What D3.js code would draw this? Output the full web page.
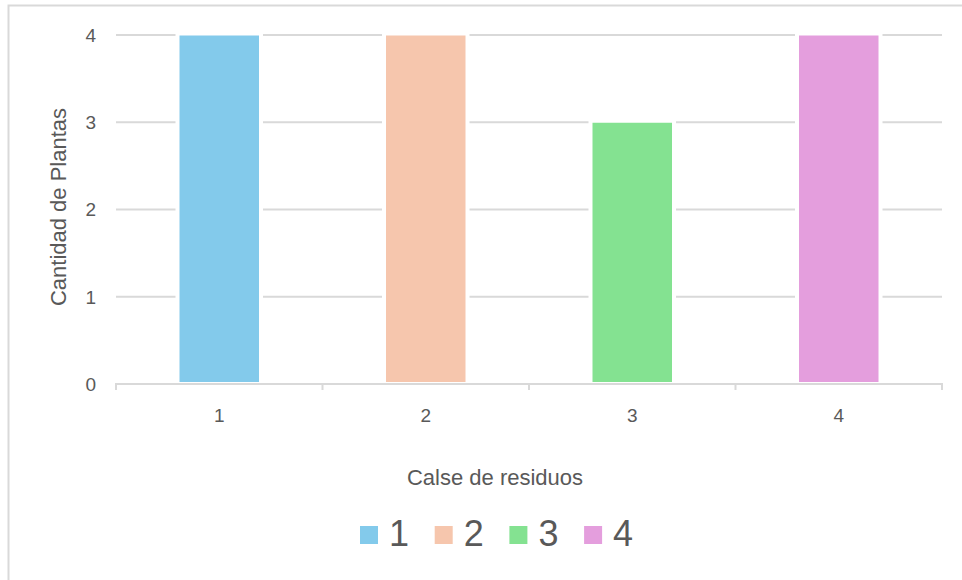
<!DOCTYPE html>
<html>
<head>
<meta charset="utf-8">
<script src="https://cdn.jsdelivr.net/npm/d3@7"></script>
<style>
  body { margin: 0; background: #fff; }
  text { font-family: "Liberation Sans", Arial, sans-serif; fill: #595959; }
</style>
</head>
<body>
<div id="chart"></div>
<script>
const categories = ["1", "2", "3", "4"];
const plantCounts = [4, 4, 3, 4];
const yTicks = [0, 1, 2, 3, 4];
const barColors = ["#83CAEB", "#F6C6AD", "#84E291", "#E49EDD"];
const xTitle = "Calse de residuos";
const yTitle = "Cantidad de Plantas";

const width = 962, height = 580;
const plotLeft = 116, plotRight = 942, plotTop = 35, plotBottom = 384;

const svg = d3.select("#chart").append("svg")
    .attr("width", width)
    .attr("height", height);

// outer frame of the chart area
svg.append("path")
    .attr("d", `M8.5,${height} V5.5 H${width}`)
    .attr("fill", "none")
    .attr("stroke", "#d9d9d9")
    .attr("stroke-width", 2);

const x = d3.scaleBand().domain(categories).range([plotLeft, plotRight]).padding(0);
const y = d3.scaleLinear().domain([0, 4]).range([plotBottom, plotTop]);

// horizontal gridlines
svg.append("g")
    .selectAll("line")
    .data(yTicks.filter(t => t > 0))
    .enter()
    .append("line")
    .attr("x1", plotLeft)
    .attr("x2", plotRight)
    .attr("y1", d => y(d))
    .attr("y2", d => y(d))
    .attr("stroke", "#d9d9d9")
    .attr("stroke-width", 2);

// y tick labels
svg.append("g")
    .selectAll("text")
    .data(yTicks)
    .enter()
    .append("text")
    .attr("x", 96)
    .attr("y", d => y(d))
    .attr("dy", "0.36em")
    .attr("text-anchor", "end")
    .style("font-size", "19px")
    .text(d => d);

const barW = x.bandwidth() * 0.385;
const data = categories.map((c, i) => ({ cat: c, value: plantCounts[i], color: barColors[i] }));

// white halo behind bars (breaks the gridlines)
svg.append("g")
    .selectAll("rect")
    .data(data)
    .enter()
    .append("rect")
    .attr("x", d => x(d.cat) + x.bandwidth() / 2 - barW / 2 - 4)
    .attr("y", d => y(d.value) - 4)
    .attr("width", barW + 8)
    .attr("height", d => plotBottom - y(d.value) + 2)
    .attr("fill", "#fff");

svg.append("g")
    .selectAll("rect")
    .data(data)
    .enter()
    .append("rect")
    .attr("x", d => x(d.cat) + x.bandwidth() / 2 - barW / 2)
    .attr("y", d => y(d.value) + 0.5)
    .attr("width", barW)
    .attr("height", d => plotBottom - 2.5 - y(d.value))
    .attr("fill", d => d.color);

// x axis
const xAxis = svg.append("g")
    .attr("transform", `translate(0,${plotBottom})`)
    .call(d3.axisBottom(x).tickSize(0).tickPadding(25));
xAxis.select(".domain")
    .attr("stroke", "#d9d9d9")
    .attr("stroke-width", 2)
    .attr("d", `M${plotLeft},6V0H${plotRight}V6`);
xAxis.selectAll(".tick text")
    .style("font-size", "19px")
    .attr("fill", "#595959")
    .attr("font-family", null);

// category boundary ticks
xAxis.append("g")
    .selectAll("line")
    .data(categories.slice(1))
    .enter()
    .append("line")
    .attr("x1", d => x(d))
    .attr("x2", d => x(d))
    .attr("y1", 0)
    .attr("y2", 6)
    .attr("stroke", "#d9d9d9")
    .attr("stroke-width", 2);

// axis titles
svg.append("text")
    .attr("x", 495)
    .attr("y", 485)
    .attr("text-anchor", "middle")
    .style("font-size", "22px")
    .text(xTitle);

svg.append("text")
    .attr("transform", `translate(66,207) rotate(-90)`)
    .attr("text-anchor", "middle")
    .style("font-size", "22px")
    .text(yTitle);

// legend
const legend = svg.append("g")
    .selectAll("g")
    .data(data)
    .enter()
    .append("g")
    .attr("transform", (d, i) => `translate(${360 + i * 74.7},526)`);
legend.append("rect")
    .attr("width", 18)
    .attr("height", 18)
    .attr("fill", d => d.color);
legend.append("text")
    .attr("x", 29)
    .attr("y", 20)
    .style("font-size", "36px")
    .text(d => d.cat);
</script>
</body>
</html>
